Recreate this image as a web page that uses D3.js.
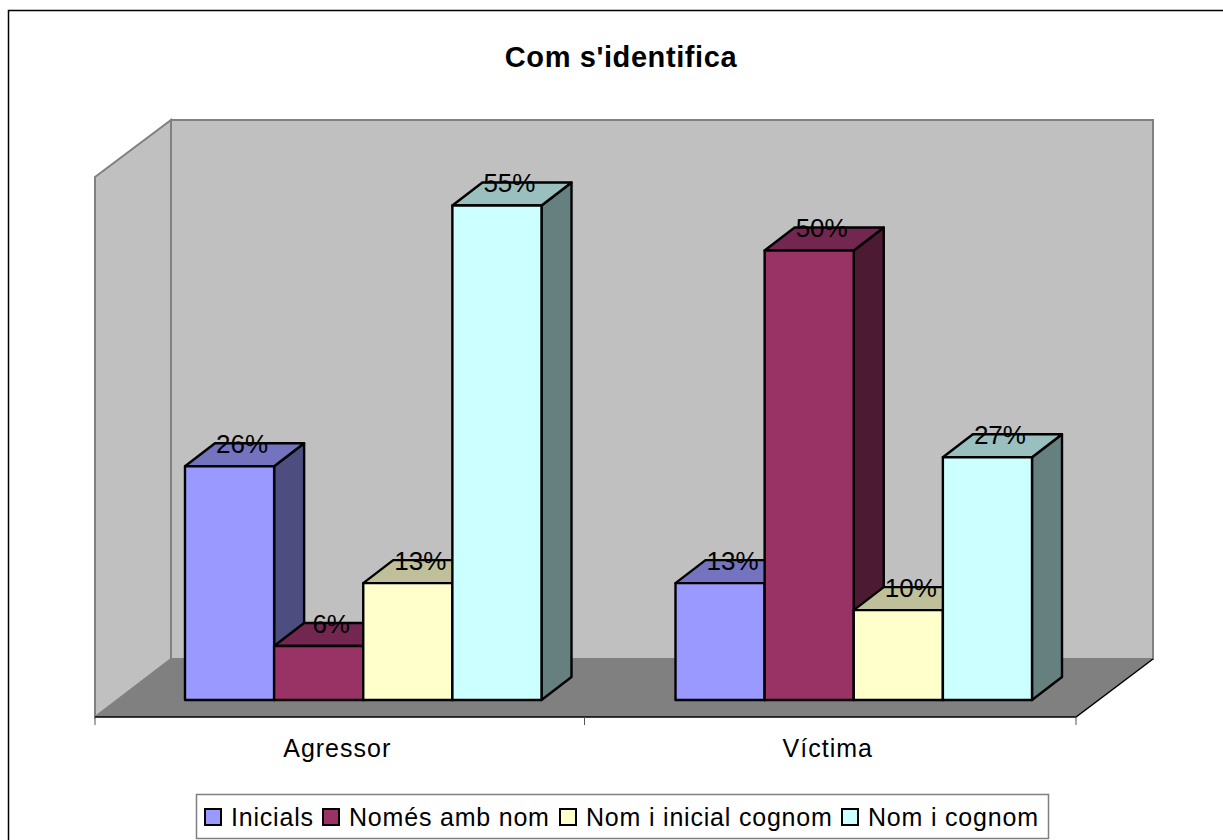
<!DOCTYPE html>
<html><head><meta charset="utf-8">
<script src="https://cdnjs.cloudflare.com/ajax/libs/d3/7.8.5/d3.min.js"></script>
<style>html,body{margin:0;padding:0;background:#fff}svg{display:block}text{font-family:"Liberation Sans",Arial,sans-serif;fill:#000}</style>
</head><body><svg id="c" width="1223" height="840"></svg>
<script>
const categories = ["Agressor", "Víctima"];
const seriesNames = ["Inicials", "Només amb nom", "Nom i inicial cognom", "Nom i cognom"];
const inicials = [26, 13];
const nomesAmbNom = [6, 50];
const nomInicial = [13, 10];
const nomCognom = [55, 27];
const seriesValues = [inicials, nomesAmbNom, nomInicial, nomCognom];
const colors = ["#9999FF", "#993366", "#FFFFCC", "#CCFFFF"];
const tops = ["#7373BF", "#732650", "#BFBF99", "#99BFBF"];
const sides = ["#4D4D80", "#4D1A33", "#808066", "#668080"];
const title = "Com s'identifica";

const svg = d3.select("#c");
const dx = 30, dy = -23;
const y = d3.scaleLinear().domain([0, 55]).range([700, 205.5]);
const x0 = d3.scaleBand().domain(categories).range([118, 1099]);
const x1 = d3.scaleBand().domain(d3.range(4)).range([67, 423.5]);
const poly = p => p.map(q => q.join(",")).join(" ");

svg.append("rect").attr("x", 8.5).attr("y", 10.5).attr("width", 1300).attr("height", 900)
  .attr("fill", "#fff").attr("stroke", "#000").attr("stroke-width", 1.5);

svg.append("text").attr("x", 621).attr("y", 67).attr("text-anchor", "middle")
  .attr("font-size", 29).attr("font-weight", "bold").style("letter-spacing", "0.6px").text(title);

svg.append("polygon").attr("points", poly([[171,120],[1153,120],[1153,659],[171,659]]))
  .attr("fill", "#C0C0C0").attr("stroke", "#808080").attr("stroke-width", 2);
svg.append("polygon").attr("points", poly([[95,177],[171,120],[171,659],[95,717]]))
  .attr("fill", "#C0C0C0").attr("stroke", "#808080").attr("stroke-width", 2);
svg.append("polygon").attr("points", poly([[95,717],[171,659],[1153,659],[1076,717]]))
  .attr("fill", "#808080");
svg.append("polyline").attr("points", poly([[95,717],[1076,717],[1153,659]]))
  .attr("fill", "none").attr("stroke", "#000").attr("stroke-width", 1.5);

const tickXs = [95, 584.5, 1076];
svg.selectAll(".t").data(tickXs).join("line").attr("class", "t")
  .attr("x1", d => d).attr("x2", d => d).attr("y1", 717).attr("y2", 725)
  .attr("stroke", "#555").attr("stroke-width", 1);
svg.selectAll(".cat").data(categories).join("text").attr("class", "cat")
  .attr("x", d => x0(d) + x0.bandwidth() / 2 - 26).attr("y", 757).attr("text-anchor", "middle")
  .attr("font-size", 25).style("letter-spacing", "1px").text(d => d);

categories.forEach((c, ci) => {
  const g = svg.append("g");
  seriesValues.forEach((vals, si) => {
    const l = x0(c) + x1(si), r = l + x1.bandwidth(), t = y(vals[ci]), b = y(0);
    const bar = g.append("g").attr("stroke", "#000").attr("stroke-width", 2.4).attr("stroke-linejoin", "round");
    bar.append("polygon").attr("points", poly([[r,t],[r+dx,t+dy],[r+dx,b+dy],[r,b]])).attr("fill", sides[si]);
    bar.append("polygon").attr("points", poly([[l,t],[l+dx,t+dy],[r+dx,t+dy],[r,t]])).attr("fill", tops[si]);
    bar.append("rect").attr("x", l).attr("y", t).attr("width", r - l).attr("height", b - t).attr("fill", colors[si]);
  });
  seriesValues.forEach((vals, si) => {
    const cx = x0(c) + x1(si) + x1.bandwidth() / 2;
    svg.append("text").attr("class", "lab").attr("x", cx + 12.5).attr("y", y(vals[ci]) - 13.5)
      .attr("text-anchor", "middle").attr("font-size", 26).text(vals[ci] + "%");
  });
});
svg.selectAll(".lab").raise();

svg.append("rect").attr("x", 196.5).attr("y", 794.5).attr("width", 852).attr("height", 44)
  .attr("fill", "#fff").attr("stroke", "#808080").attr("stroke-width", 1.5);
const legendX = [205, 323, 560, 842];
seriesNames.forEach((n, i) => {
  svg.append("rect").attr("x", legendX[i]).attr("y", 809).attr("width", 16).attr("height", 16)
    .attr("fill", colors[i]).attr("stroke", "#000").attr("stroke-width", 2);
  svg.append("text").attr("x", legendX[i] + 26).attr("y", 826).attr("font-size", 25)
    .style("letter-spacing", "0.8px").text(n);
});
</script></body></html>
